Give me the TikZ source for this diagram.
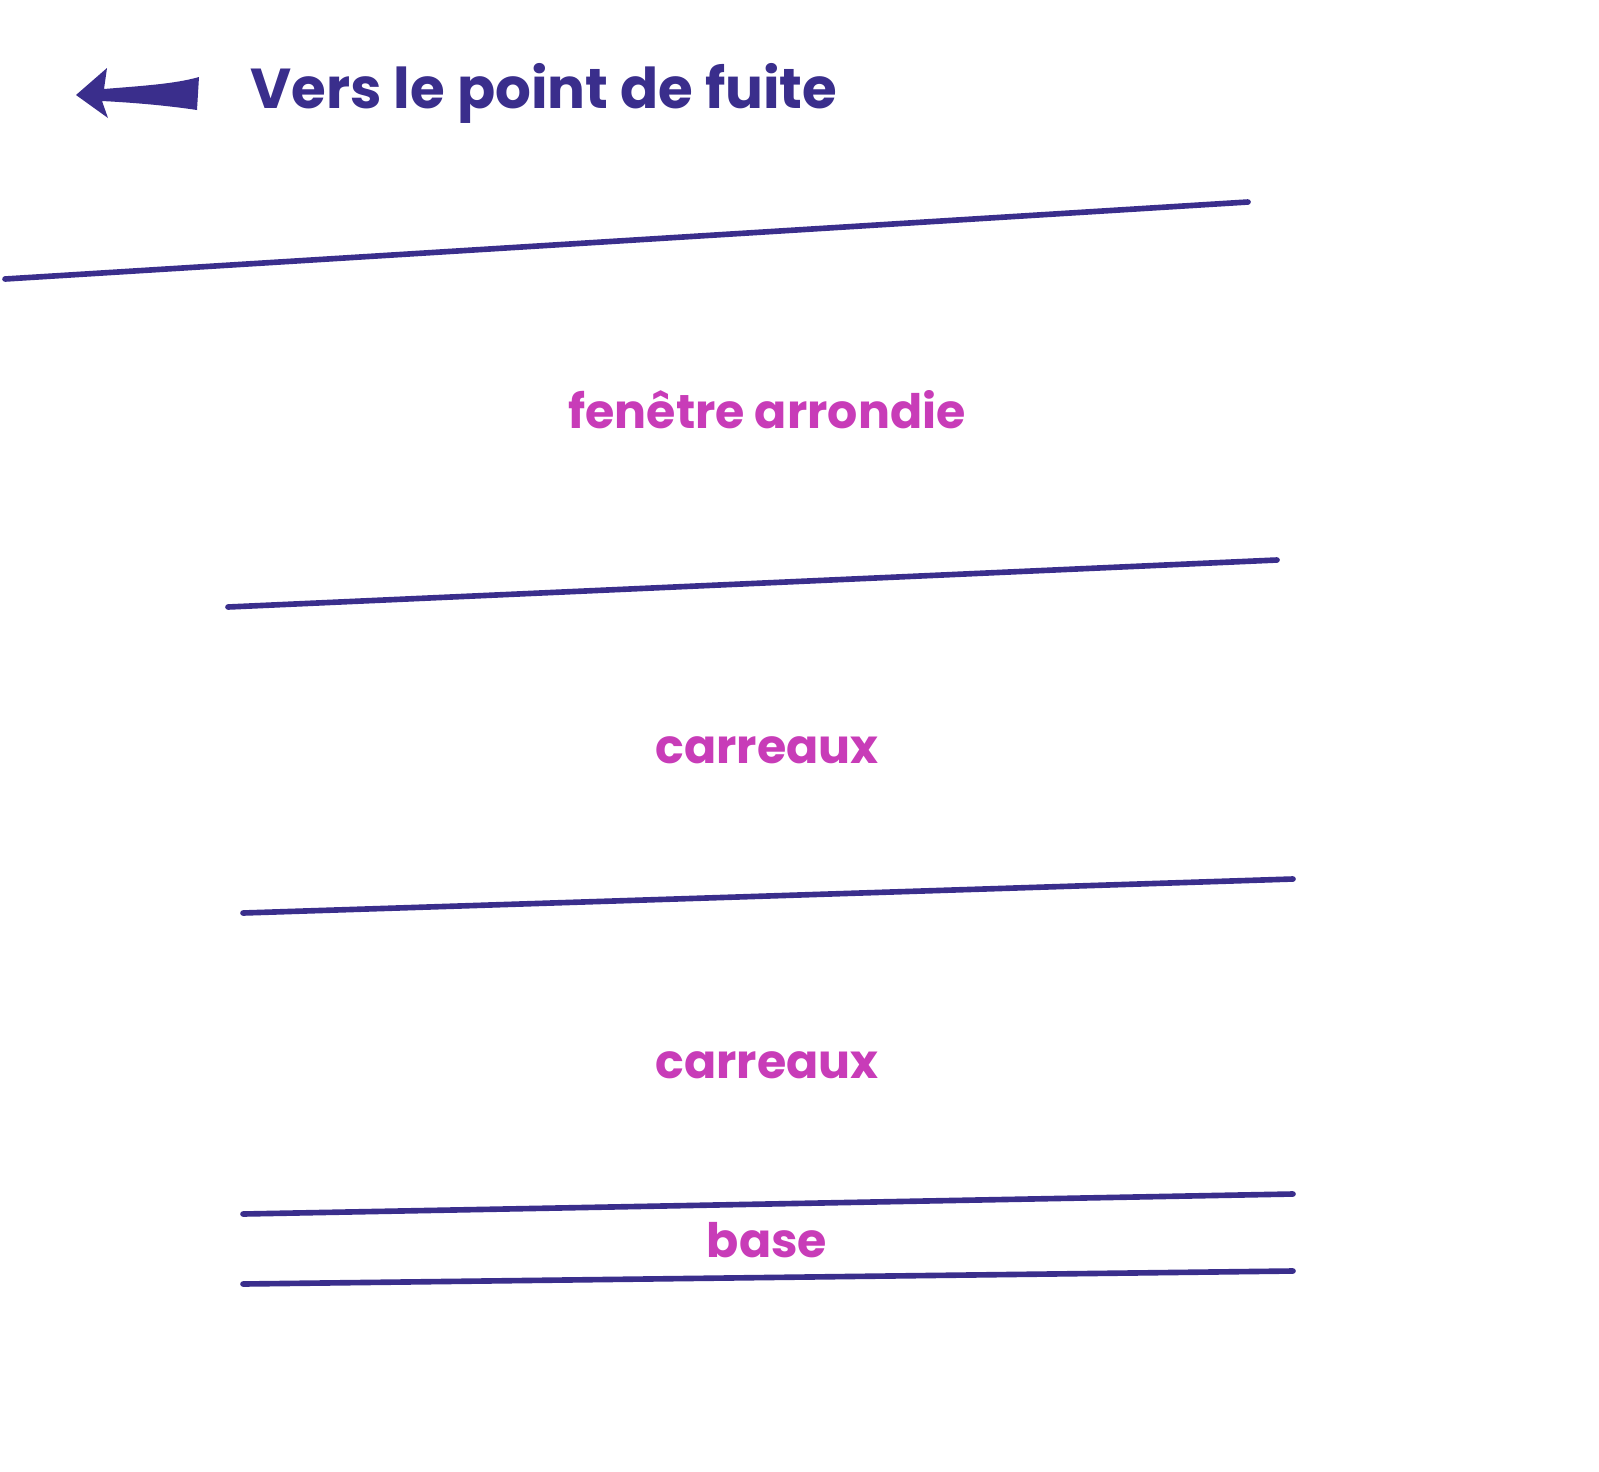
\documentclass[tikz,border=0pt]{standalone}
\usepackage{fontspec}
\setmainfont{Poppins}
\definecolor{fuiteblue}{RGB}{58,46,140}
\definecolor{zonepink}{RGB}{200,60,184}

\begin{document}
\begin{tikzpicture}[x=0.01cm, y=-0.01cm,
  fuite/.style={line width=1.6pt, fuiteblue, line cap=round},
  zone/.style={text=zonepink, font=\fontsize{13.5}{16}\selectfont\bfseries}]

\useasboundingbox[fill=white] (0,0) rectangle (1599,1472);

% arrow towards the vanishing point
\fill[fuiteblue] (76,95) -- (107,68) -- (104,89)
  .. controls (140,86) and (175,84) .. (199,77)
  -- (197,110) .. controls (170,106) and (140,103) .. (102,101)
  -- (108,118) -- cycle;
\node[anchor=base west, inner sep=0pt, text=fuiteblue,
  font=\fontsize{16}{19}\selectfont\bfseries] (titre) at (250,108) {Vers le point de fuite};

% lines
\coordinate (l1a) at (5,279);   \coordinate (l1b) at (1248,202);
\coordinate (l2a) at (228,607); \coordinate (l2b) at (1277,560);
\coordinate (l3a) at (243,913); \coordinate (l3b) at (1293,879);
\coordinate (l4a) at (243,1214); \coordinate (l4b) at (1293,1194);
\coordinate (l5a) at (243,1284); \coordinate (l5b) at (1293,1271);
\foreach \l in {1,...,5}
  \draw[fuite] (l\l a) -- (l\l b);

\node[zone] (fenetre) at (767,410) {fenêtre arrondie};
\node[zone] (carreaux1) at (767,750) {carreaux};
\node[zone] (carreaux2) at (767,1065) {carreaux};
\node[zone] (base) at (767,1240) {base};

\end{tikzpicture}
\end{document}
